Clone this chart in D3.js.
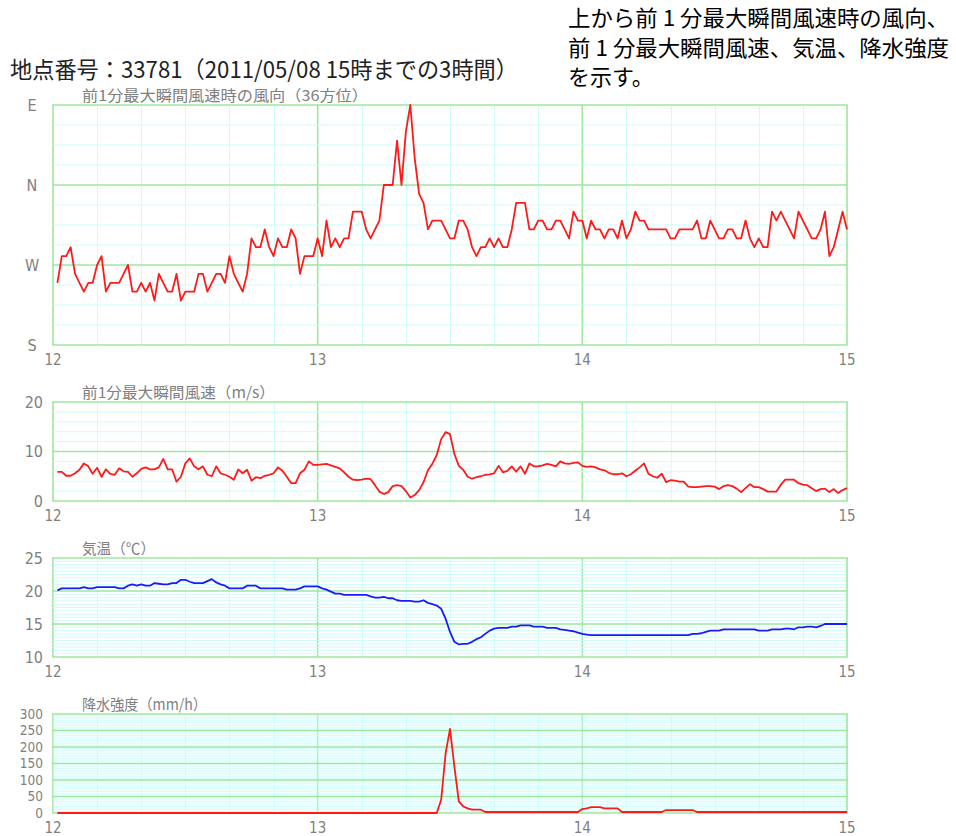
<!DOCTYPE html>
<html>
<head>
<meta charset="utf-8">
<script src="https://cdn.jsdelivr.net/npm/d3@7"></script>
<style>
    html, body { margin: 0; padding: 0; background: #fff; }
    svg { display: block; }
    .jp { font-family: 'Noto Sans CJK JP', sans-serif; }
    .num { font-family: 'Liberation Sans Narrow', 'DejaVu Sans Condensed', sans-serif; fill: #808080; }
</style>
</head>
<body>
<svg id="chart" width="956" height="836"></svg>
<script>
(function () {
    'use strict';

    // one reading per minute, 12:01 .. 15:00
    const hourLabels = ["12", "13", "14", "15"];
    const dirLabels = ["S", "W", "N", "E"];
    const speedTicks = [0, 10, 20];
    const tempTicks = [10, 15, 20, 25];
    const rainTicks = [0, 50, 100, 150, 200, 250, 300];

    // compass degrees (36 directions)
    const windDir = [
        250, 280, 280, 290, 260, 250, 240, 250, 250, 270,
        280, 240, 250, 250, 250, 260, 270, 240, 240, 250,
        240, 250, 230, 260, 250, 240, 240, 260, 230, 240,
        240, 240, 260, 260, 240, 250, 260, 260, 250, 280,
        260, 250, 240, 260, 300, 290, 290, 310, 290, 280,
        300, 290, 290, 310, 300, 260, 280, 280, 280, 300,
        280, 320, 290, 300, 290, 300, 300, 330, 330, 330,
        310, 300, 310, 320, 360, 360, 360, 50, 360, 60,
        90, 30, 350, 340, 310, 320, 320, 320, 310, 300,
        300, 320, 320, 310, 290, 280, 290, 290, 300, 290,
        300, 290, 290, 310, 340, 340, 340, 310, 310, 320,
        320, 310, 310, 320, 320, 310, 300, 330, 320, 320,
        300, 320, 310, 310, 300, 310, 310, 300, 320, 300,
        310, 330, 320, 320, 310, 310, 310, 310, 310, 300,
        300, 310, 310, 310, 310, 320, 300, 300, 320, 310,
        300, 300, 310, 310, 300, 300, 320, 300, 290, 300,
        290, 290, 330, 320, 330, 320, 310, 300, 330, 320,
        310, 300, 300, 310, 330, 280, 290, 310, 330, 310
    ];

    // m/s
    const windSpeed = [
        5.9, 5.9, 5.1, 5.1, 5.6, 6.3, 7.6, 7.0, 5.5, 6.7,
        4.9, 6.4, 5.5, 5.3, 6.6, 6.0, 5.9, 4.9, 5.6, 6.5,
        6.8, 6.4, 6.4, 6.8, 8.5, 6.4, 6.4, 3.9, 4.9, 7.6,
        8.6, 7.0, 6.4, 7.0, 5.3, 5.0, 7.0, 5.6, 5.3, 4.9,
        4.3, 6.4, 5.6, 6.3, 4.1, 4.8, 4.6, 5.1, 5.3, 5.6,
        6.8, 6.1, 4.9, 3.6, 3.6, 5.6, 6.3, 8.0, 7.3, 7.3,
        7.4, 7.5, 7.2, 6.9, 6.6, 5.8, 4.9, 4.3, 4.2, 4.3,
        4.5, 4.4, 3.2, 1.9, 1.4, 1.8, 3.0, 3.2, 3.0, 2.0,
        0.7, 1.2, 2.2, 3.8, 6.2, 7.5, 9.3, 12.5, 13.9, 13.5,
        9.5, 7.1, 6.3, 4.9, 4.5, 4.8, 5.0, 5.3, 5.4, 5.6,
        7.1, 5.8, 6.1, 7.0, 5.9, 7.0, 5.5, 7.6, 7.0, 7.0,
        7.2, 7.5, 7.3, 7.0, 8.0, 7.6, 7.5, 7.7, 7.8, 7.1,
        6.9, 7.0, 6.8, 6.4, 6.2, 5.7, 5.4, 5.4, 5.6, 5.0,
        5.4, 6.1, 6.8, 7.6, 5.5, 5.0, 4.7, 5.5, 3.8, 4.2,
        4.1, 3.9, 3.9, 2.9, 2.8, 2.8, 2.9, 3.0, 3.0, 2.9,
        2.4, 3.0, 3.2, 3.0, 2.5, 1.8, 2.6, 3.4, 2.8, 2.8,
        2.4, 1.9, 1.9, 1.9, 3.3, 4.3, 4.3, 4.3, 3.6, 3.3,
        3.2, 2.6, 2.0, 2.4, 2.5, 1.8, 2.4, 1.6, 2.2, 2.6
    ];

    // deg C
    const temperature = [
        20.1, 20.4, 20.4, 20.4, 20.4, 20.4, 20.6, 20.4, 20.4, 20.6,
        20.6, 20.6, 20.6, 20.6, 20.4, 20.4, 20.8, 21.0, 20.8, 21.0,
        20.8, 20.8, 21.2, 21.1, 21.0, 21.0, 21.2, 21.2, 21.7, 21.7,
        21.4, 21.2, 21.2, 21.2, 21.5, 21.8, 21.3, 21.0, 20.8, 20.4,
        20.4, 20.4, 20.4, 20.8, 20.8, 20.8, 20.4, 20.4, 20.4, 20.4,
        20.4, 20.4, 20.2, 20.2, 20.2, 20.4, 20.7, 20.7, 20.7, 20.7,
        20.4, 20.2, 19.9, 19.6, 19.6, 19.4, 19.4, 19.4, 19.4, 19.4,
        19.4, 19.2, 19.0, 19.0, 19.1, 18.9, 18.9, 18.6, 18.5, 18.5,
        18.5, 18.4, 18.4, 18.6, 18.2, 18.0, 17.8, 17.3, 15.8, 13.8,
        12.3, 11.9, 12.0, 12.0, 12.3, 12.7, 13.0, 13.5, 14.0, 14.3,
        14.4, 14.4, 14.4, 14.6, 14.6, 14.8, 14.8, 14.8, 14.6, 14.6,
        14.6, 14.4, 14.4, 14.4, 14.2, 14.1, 14.0, 13.9, 13.7, 13.5,
        13.4, 13.3, 13.3, 13.3, 13.3, 13.3, 13.3, 13.3, 13.3, 13.3,
        13.3, 13.3, 13.3, 13.3, 13.3, 13.3, 13.3, 13.3, 13.3, 13.3,
        13.3, 13.3, 13.3, 13.3, 13.5, 13.5, 13.6, 13.8, 14.0, 14.0,
        14.0, 14.2, 14.2, 14.2, 14.2, 14.2, 14.2, 14.2, 14.2, 14.0,
        14.0, 14.0, 14.2, 14.2, 14.2, 14.3, 14.3, 14.2, 14.5, 14.5,
        14.6, 14.6, 14.5, 14.7, 15.0, 15.0, 15.0, 15.0, 15.0, 15.0
    ];

    // mm/h
    const precipitation = [
        0, 0, 0, 0, 0, 0, 0, 0, 0, 0,
        0, 0, 0, 0, 0, 0, 0, 0, 0, 0,
        0, 0, 0, 0, 0, 0, 0, 0, 0, 0,
        0, 0, 0, 0, 0, 0, 0, 0, 0, 0,
        0, 0, 0, 0, 0, 0, 0, 0, 0, 0,
        0, 0, 0, 0, 0, 0, 0, 0, 0, 0,
        0, 0, 0, 0, 0, 0, 0, 0, 0, 0,
        0, 0, 0, 0, 0, 0, 0, 0, 0, 0,
        0, 0, 0, 0, 0, 0, 0, 40, 180, 255,
        140, 35, 20, 14, 10, 10, 10, 3, 3, 3,
        3, 3, 3, 3, 3, 3, 3, 3, 3, 3,
        3, 3, 3, 3, 3, 3, 3, 3, 3, 12,
        14, 18, 18, 18, 14, 14, 14, 14, 3, 3,
        3, 3, 3, 3, 3, 3, 3, 3, 9, 9,
        9, 9, 9, 9, 9, 3, 3, 3, 3, 3,
        3, 3, 3, 3, 3, 3, 3, 3, 3, 3,
        3, 3, 3, 3, 3, 3, 3, 3, 3, 3,
        3, 3, 3, 3, 3, 3, 3, 3, 3, 3
    ];

    const MAJOR = "#9ee79e";
    const MINOR = "#cdfdfd";

    const svg = d3.select("#chart");
    const x = d3.scaleLinear().domain([0, 180]).range([53, 847]);
    const minutes = d3.range(1, 181);

    // show the wind direction with E on top: NNE..E wrap above N
    const unwrap = d => d < 180 ? d + 360 : d;

    const panels = [
        { title: "前1分最大瞬間風速時の風向（36方位）", titleW: 286, top: 105, bottom: 345,
          domain: [180, 450], major: [180, 270, 360, 450], minorStep: 22.5, fontSize: 16,
          labels: dirLabels, centerLabels: true, values: windDir.map(unwrap), color: "#ff1a1a" },
        { title: "前1分最大瞬間風速（m/s）", titleW: 193, top: 402, bottom: 501,
          domain: [0, 20], major: speedTicks, minorStep: 2, fontSize: 16,
          labels: speedTicks.map(String), values: windSpeed, color: "#ff1a1a" },
        { title: "気温（℃）", titleW: 73, top: 558, bottom: 657,
          domain: [10, 25], major: tempTicks, minorStep: 0.5, fontSize: 16,
          labels: tempTicks.map(String), values: temperature, color: "#1a1aff" },
        { title: "降水強度（mm/h）", titleW: 125, top: 714, bottom: 813,
          domain: [0, 300], major: rainTicks, minorStep: 5, fontSize: 13.5,
          labels: rainTicks.map(String), values: precipitation, color: "#ff1a1a" }
    ];

    panels.forEach(p => drawPanel(p));

    function drawPanel(p) {
        const y = d3.scaleLinear().domain(p.domain).range([p.bottom, p.top]);
        const g = svg.append("g");
        const x0 = x(0), x1 = x(180);

        // vertical lines: 10 minute minors, then hour majors (not the right edge yet)
        const vMinor = d3.range(10, 180, 10).filter(m => m % 60 !== 0);
        g.selectAll(null).data(vMinor).join("line")
            .attr("x1", m => Math.round(x(m)) + 0.5).attr("x2", m => Math.round(x(m)) + 0.5)
            .attr("y1", p.top).attr("y2", p.bottom)
            .attr("stroke", MINOR).attr("stroke-width", 1);
        g.selectAll(null).data([0, 60, 120]).join("line")
            .attr("x1", m => x(m)).attr("x2", m => x(m))
            .attr("y1", p.top).attr("y2", p.bottom)
            .attr("stroke", MAJOR).attr("stroke-width", 1.6);

        // horizontal minors drawn over the vertical majors
        const hMinor = d3.range(p.domain[0] + p.minorStep, p.domain[1], p.minorStep)
            .filter(v => p.major.indexOf(v) < 0);
        g.selectAll(null).data(hMinor).join("line")
            .attr("x1", x0).attr("x2", x1)
            .attr("y1", v => y(v)).attr("y2", v => y(v))
            .attr("stroke", MINOR).attr("stroke-width", p.minorStep === 5 ? 0.8 : 1);
        g.selectAll(null).data(p.major).join("line")
            .attr("x1", x0 - 0.8).attr("x2", x1 + 0.8)
            .attr("y1", v => y(v)).attr("y2", v => y(v))
            .attr("stroke", MAJOR).attr("stroke-width", 1.6);
        g.append("line")
            .attr("x1", x1).attr("x2", x1).attr("y1", p.top).attr("y2", p.bottom)
            .attr("stroke", MAJOR).attr("stroke-width", 1.6);

        // data
        const line = d3.line()
            .x((d, i) => x(minutes[i]))
            .y(d => y(d));
        g.append("path")
            .attr("d", line(p.values))
            .attr("fill", "none")
            .attr("stroke", p.color)
            .attr("stroke-width", 1.8)
            .attr("stroke-linejoin", "round");

        // y labels
        g.selectAll(null).data(p.major).join("text")
            .attr("class", "num")
            .attr("font-size", p.fontSize)
            .attr("x", p.centerLabels ? 32 : 43)
            .attr("y", v => y(v))
            .attr("dy", "0.36em")
            .attr("text-anchor", p.centerLabels ? "middle" : "end")
            .text((v, i) => p.labels[i]);

        // x labels
        g.selectAll(null).data([0, 60, 120, 180]).join("text")
            .attr("class", "num")
            .attr("font-size", 15)
            .attr("x", m => x(m))
            .attr("y", p.bottom + 20)
            .attr("text-anchor", "middle")
            .text((m, i) => hourLabels[i]);

        g.append("text")
            .attr("class", "jp")
            .attr("x", 82)
            .attr("y", p.top - 4)
            .attr("font-size", 15)
            .attr("fill", "#808080")
            .attr("textLength", p.titleW)
            .attr("lengthAdjust", "spacingAndGlyphs")
            .text(p.title);
    }

    svg.append("text")
        .attr("class", "jp")
        .attr("x", 10).attr("y", 78)
        .attr("font-size", 23)
        .attr("fill", "#222")
        .attr("textLength", 508)
        .attr("lengthAdjust", "spacingAndGlyphs")
        .text("地点番号：33781（2011/05/08 15時までの3時間）");

    const note = ["上から前 1 分最大瞬間風速時の風向、", "前 1 分最大瞬間風速、気温、降水強度", "を示す。"];
    svg.selectAll(null).data(note).join("text")
        .attr("class", "jp")
        .attr("x", 568)
        .attr("y", (d, i) => 26 + i * 29.5)
        .attr("font-size", 22)
        .attr("fill", "#000")
        .attr("textLength", (d, i) => i < 2 ? 381 : null)
        .attr("lengthAdjust", "spacingAndGlyphs")
        .text(d => d);
})();
</script>
</body>
</html>
